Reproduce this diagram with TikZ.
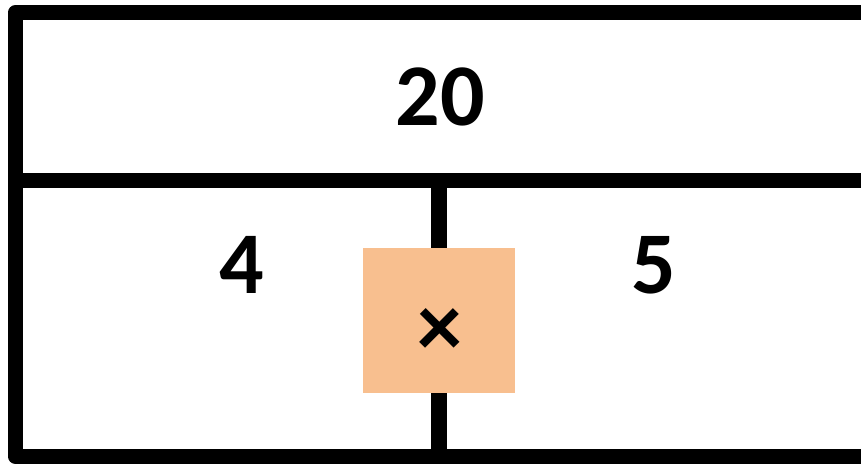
\documentclass[tikz,border=0pt]{standalone}
\usepackage{fontspec}
\setmainfont{Carlito}
\definecolor{boxorange}{HTML}{F8BF8F}
\begin{document}
\begin{tikzpicture}[x=1pt,y=1pt,
  frame/.style={line width=15pt,line join=round},
  num/.style={font=\fontsize{88}{88}\selectfont\bfseries,inner sep=0pt}]
\useasboundingbox (0,0) rectangle (861,475);
\begin{scope}
\clip (0,0) rectangle (861,475);
\draw[frame] (15,462) rectangle (868,19);
\end{scope}
\coordinate (ml) at (15,295);
\coordinate (mr) at (861,295);
\draw[frame] (ml) -- (mr);
\coordinate (vt) at (439,295);
\coordinate (vb) at (439,19);
\draw[line width=16pt] (vt) -- (vb);
\node[fill=boxorange,minimum width=152pt,minimum height=145pt,inner sep=0pt] (sq) at (439,154.5) {};
\node[num] (t20) at (440,378) {20};
\node[num] (t4) at (242,210) {4};
\node[num] (t5) at (654,210) {5};
\node[font=\fontsize{90}{90}\selectfont\bfseries,inner sep=0pt] (times) at (440,142) {×};
\end{tikzpicture}
\end{document}
